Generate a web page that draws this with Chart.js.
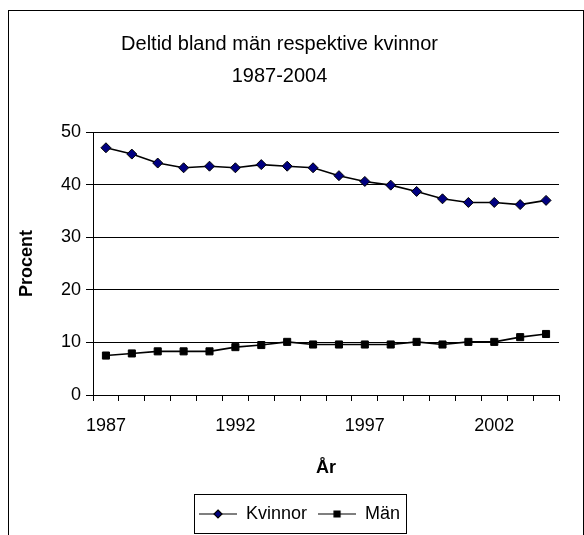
<!DOCTYPE html>
<html>
<head>
<meta charset="utf-8">
<script src="https://cdn.jsdelivr.net/npm/chart.js@4.4.0/dist/chart.umd.min.js"></script>
<style>
html, body { margin: 0; padding: 0; background: #fff; }
#wrap { position: relative; width: 584px; height: 535px; }
</style>
</head>
<body>
<div id="wrap"><canvas id="deltidChart"></canvas></div>
<script>
const years = ['1987', '1988', '1989', '1990', '1991', '1992', '1993', '1994', '1995',
    '1996', '1997', '1998', '1999', '2000', '2001', '2002', '2003', '2004'];
const kvinnor = [47.0, 45.8, 44.1, 43.2, 43.5, 43.2, 43.8, 43.5, 43.2,
    41.7, 40.6, 39.9, 38.7, 37.3, 36.6, 36.6, 36.2, 37.0];
const man = [7.5, 7.9, 8.3, 8.3, 8.3, 9.1, 9.5, 10.1, 9.6,
    9.6, 9.6, 9.6, 10.1, 9.6, 10.1, 10.1, 11.0, 11.6];
const yearTicks = ['1987', '1992', '1997', '2002'];
const titleLines = ['Deltid bland män respektive kvinnor', '1987-2004'];

const FONT = "'Liberation Sans', Arial, sans-serif";
const LEGEND_SHIFT = 20;

// small line+marker pictures for the legend, Excel style
function legendSymbol(style, fill) {
    const c = document.createElement('canvas');
    c.width = 38;
    c.height = 12;
    const g = c.getContext('2d');
    g.strokeStyle = '#000';
    g.lineWidth = 1.2;
    g.beginPath();
    g.moveTo(0, 6);
    g.lineTo(38, 6);
    g.stroke();
    g.fillStyle = fill;
    g.beginPath();
    if (style === 'diamond') {
        g.moveTo(19, 2); g.lineTo(23, 6); g.lineTo(19, 10); g.lineTo(15, 6);
    } else {
        g.rect(16, 3, 6, 6);
    }
    g.closePath();
    g.fill();
    g.stroke();
    return c;
}

const frame = {
    id: 'frame',
    afterLayout(chart) {
        // Excel puts the legend a bit right of the title centre
        const lg = chart.legend;
        if (lg) {
            lg.left += LEGEND_SHIFT;
            lg.right += LEGEND_SHIFT;
            if (lg.adjustHitBoxes) lg.adjustHitBoxes();
        }
    },
    beforeDraw(chart) {
        const ctx = chart.ctx;
        ctx.save();
        ctx.fillStyle = '#fff';
        ctx.fillRect(0, 0, chart.width, chart.height);
        ctx.strokeStyle = '#000';
        ctx.lineWidth = 1;
        ctx.strokeRect(8.5, 10.5, 575, 600);
        ctx.restore();
    },
    afterDraw(chart) {
        const lg = chart.legend;
        if (!lg || !lg.legendHitBoxes.length) return;
        const boxes = lg.legendHitBoxes;
        const pad = lg.options.labels.padding;
        const total = boxes.reduce((s, b) => s + b.width, 0) + pad * (boxes.length - 1);
        const mid = (lg.left + lg.right) / 2;
        const left = mid - total / 2 - 5;
        const right = mid + total / 2 + 6;
        const ctx = chart.ctx;
        ctx.save();
        ctx.strokeStyle = '#000';
        ctx.lineWidth = 1;
        ctx.strokeRect(Math.round(left) + 0.5, Math.round(lg.top) + 0.5,
            Math.round(right - left), Math.round(lg.bottom - lg.top));
        ctx.restore();
    }
};

const ctx = document.getElementById('deltidChart').getContext('2d');
new Chart(ctx, {
    type: 'line',
    data: {
        labels: years,
        datasets: [{
            label: 'Kvinnor',
            data: kvinnor,
            borderColor: '#000',
            borderWidth: 1.6,
            pointStyle: 'rectRot',
            pointRadius: 5,
            pointBackgroundColor: '#000080',
            pointBorderColor: '#000',
            pointBorderWidth: 1,
            tension: 0
        }, {
            label: 'Män',
            data: man,
            borderColor: '#000',
            borderWidth: 1.6,
            pointStyle: 'rect',
            pointRadius: 5,
            pointBackgroundColor: '#000',
            pointBorderColor: '#000',
            pointBorderWidth: 1,
            tension: 0
        }]
    },
    options: {
        responsive: true,
        maintainAspectRatio: false,
        animation: false,
        devicePixelRatio: 1,
        layout: {
            padding: { left: 0, right: 25, top: 0, bottom: 2 }
        },
        plugins: {
            title: {
                display: true,
                text: titleLines,
                color: '#000',
                font: { family: FONT, size: 20, weight: 'normal', lineHeight: 1.6 },
                padding: { top: 28, bottom: 40 }
            },
            legend: {
                position: 'bottom',
                labels: {
                    color: '#000',
                    font: { family: FONT, size: 18 },
                    usePointStyle: true,
                    pointStyleWidth: 38,
                    padding: 11,
                    generateLabels(chart) {
                        return chart.data.datasets.map((ds, i) => ({
                            text: ds.label,
                            fontColor: '#000',
                            pointStyle: i === 0 ? legendSymbol('diamond', '#000080') : legendSymbol('square', '#000'),
                            datasetIndex: i,
                            hidden: false,
                            lineWidth: 0
                        }));
                    }
                }
            },
            tooltip: { enabled: false }
        },
        scales: {
            x: {
                offset: true,
                grid: {
                    offset: true,
                    drawOnChartArea: false,
                    drawTicks: true,
                    tickLength: 6,
                    color: '#000'
                },
                border: { display: true, color: '#000', width: 1 },
                ticks: {
                    autoSkip: false,
                    maxRotation: 0,
                    color: '#000',
                    padding: 14,
                    font: { family: FONT, size: 18 },
                    callback: function(value) {
                        const lbl = this.getLabelForValue(value);
                        return yearTicks.includes(lbl) ? lbl : '';
                    }
                },
                title: {
                    display: true,
                    text: 'År',
                    color: '#000',
                    font: { family: FONT, size: 18, weight: 'bold' },
                    padding: { top: 16, bottom: 15 }
                },
                afterFit(scale) { scale.height = 99; }
            },
            y: {
                min: 0,
                max: 50,
                grid: {
                    color: '#000',
                    drawTicks: true,
                    tickLength: 7
                },
                border: { display: true, color: '#000', width: 1 },
                ticks: {
                    stepSize: 10,
                    color: '#000',
                    padding: 5,
                    font: { family: FONT, size: 18 }
                },
                title: {
                    display: true,
                    text: 'Procent',
                    color: '#000',
                    font: { family: FONT, size: 18, weight: 'bold' },
                    padding: { top: 16, bottom: 0 }
                },
                afterFit(scale) { scale.width = 93; }
            }
        }
    },
    plugins: [frame]
});
</script>
</body>
</html>
